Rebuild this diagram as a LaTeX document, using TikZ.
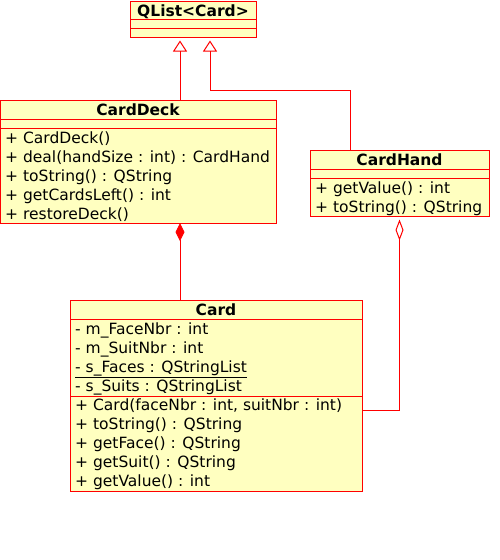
\documentclass[tikz,border=0pt]{standalone}
\usepackage{fontspec}
\setmainfont{DejaVu Sans}
\usetikzlibrary{arrows.meta}

\definecolor{umlred}{RGB}{255,0,0}
\definecolor{umlfill}{RGB}{255,255,192}

\tikzset{
  classbox/.style={draw=umlred, fill=umlfill, line width=1pt, anchor=north west,
    inner sep=0pt, outer sep=0pt},
  title/.style={font=\fontsize{15.5}{19}\selectfont\bfseries, anchor=base, inner sep=0pt},
  member/.style={font=\fontsize{15.5}{19}\selectfont, anchor=base west, inner sep=0pt},
  sep/.style={draw=umlred, line width=1pt},
  gen/.style={draw=umlred, line width=1pt, -{Triangle[open, length=11pt, width=14pt]}},
  comp/.style={draw=umlred, line width=1pt, -{Diamond[length=18pt, width=9pt, fill=umlred]}},
  aggr/.style={draw=umlred, line width=1pt, -{Diamond[open, length=21pt, width=8pt]}},
}

\begin{document}
\begin{tikzpicture}[x=1pt, y=-1pt]
      \useasboundingbox (0,0) rectangle (500,560);

      % QList<Card>
      \node[classbox, minimum width=126, minimum height=36] (qlist) at (130,1) {};
      \node[title] (qlistName) at (193,16) {QList<Card>};
      \draw[sep] (130,19) -- (256,19);
      \draw[sep] (130,28) -- (256,28);

      % CardDeck
      \node[classbox, minimum width=276, minimum height=123] (deck) at (0,100) {};
      \node[title] (deckName) at (138,115) {CardDeck};
      \draw[sep] (0,119) -- (276,119);
      \draw[sep] (0,128) -- (276,128);
      \node[member] (deckOp1) at (5,143) {+ CardDeck()};
      \node[member] (deckOp2) at (5,162) {+ deal(handSize : int) : CardHand};
      \node[member] (deckOp3) at (5,181) {+ toString() : QString};
      \node[member] (deckOp4) at (5,200) {+ getCardsLeft() : int};
      \node[member] (deckOp5) at (5,219) {+ restoreDeck()};

      % CardHand
      \node[classbox, minimum width=179, minimum height=66] (hand) at (310,150) {};
      \node[title] (handName) at (399.5,165) {CardHand};
      \draw[sep] (310,169) -- (489,169);
      \draw[sep] (310,178) -- (489,178);
      \node[member] (handOp1) at (315,193) {+ getValue() : int};
      \node[member] (handOp2) at (315,212) {+ toString() : QString};

      % Card
      \node[classbox, minimum width=292, minimum height=191] (card) at (70,300) {};
      \node[title] (cardName) at (216,315) {Card};
      \draw[sep] (70,319) -- (362,319);
      \node[member] (cardAt1) at (75,334) {- m\_FaceNbr : int};
      \node[member] (cardAt2) at (75,353) {- m\_SuitNbr : int};
      \node[member] (cardAt3) at (75,372) {\underline{- s\_Faces : QStringList}};
      \node[member] (cardAt4) at (75,391) {\underline{- s\_Suits : QStringList}};
      \draw[sep] (70,396) -- (362,396);
      \node[member] (cardOp1) at (75,410) {+ Card(faceNbr : int, suitNbr : int)};
      \node[member] (cardOp2) at (75,429) {+ toString() : QString};
      \node[member] (cardOp3) at (75,448) {+ getFace() : QString};
      \node[member] (cardOp4) at (75,467) {+ getSuit() : QString};
      \node[member] (cardOp5) at (75,486) {+ getValue() : int};

      % relations
      \draw[gen] ([xshift=42pt]deck.north) -- ([xshift=-13pt, yshift=-3.5pt]qlist.south);
      \draw[gen] ([xshift=-49.5pt]hand.north) |- ([xshift=17pt, yshift=-53pt]qlist.south)
            -- ([xshift=17pt, yshift=-3.5pt]qlist.south);
      \draw[comp] ([xshift=-36pt]card.north) -- ([xshift=42pt]deck.south);
      \draw[aggr] ([yshift=-14.5pt]card.east) -| ([yshift=-3.5pt]hand.south);

\end{tikzpicture}
\end{document}
